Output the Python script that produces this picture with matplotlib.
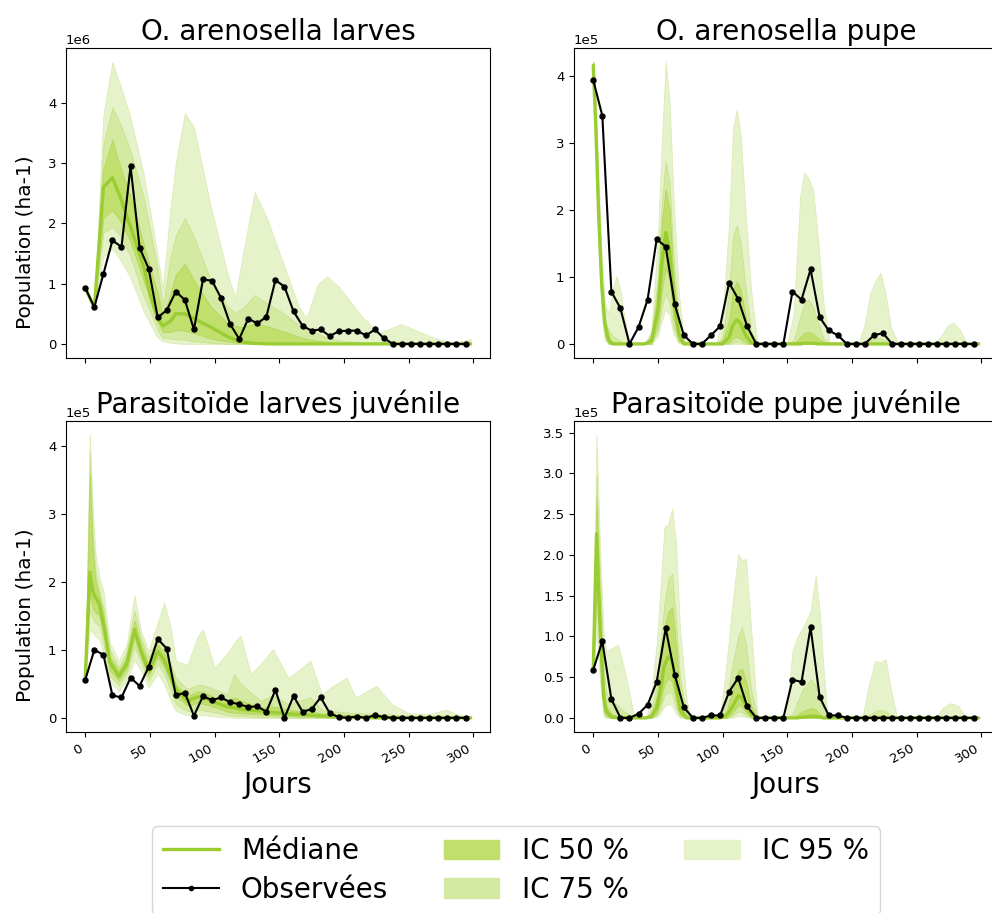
import numpy as np
import matplotlib
matplotlib.use("Agg")
import matplotlib.pyplot as plt
from matplotlib.patches import Patch
from matplotlib.lines import Line2D

# ---------------- observed sampling days (every 7 days) ----------------
obs_days = [0, 7, 14, 21, 28, 35, 42, 49, 56, 63, 70, 77, 84, 91, 98, 105, 112,
            119, 126, 133, 140, 147, 154, 161, 168, 175, 182, 189, 196, 203, 210,
            217, 224, 231, 238, 245, 252, 259, 266, 273, 280, 287, 294]

# ---------------- O. arenosella larves (x 1e6) ----------------
TL_days = [0, 7, 14, 21, 27, 35, 45, 51, 56, 60, 66, 70, 77, 84, 97, 110, 116,
           122, 131, 141, 154, 165, 171, 180, 187, 196, 214, 227, 244, 255, 271, 285, 298]
TL_med = [0.93, 0.60, 2.60, 2.76, 2.44, 1.94, 1.30, 0.75, 0.42, 0.30, 0.38, 0.50, 0.50,
          0.42, 0.28, 0.12, 0.07, 0.03, 0.01] + [0] * 14
TL_u50 = [0.93, 0.60, 2.90, 3.39, 2.94, 2.44, 1.67, 1.20, 0.84, 0.45, 0.84, 1.15, 1.33,
          1.06, 0.62, 0.34, 0.30, 0.28, 0.34, 0.29, 0.20, 0.12, 0.08, 0.05, 0.03, 0.01] + [0] * 7
TL_u75 = [0.93, 0.60, 3.30, 3.93, 3.66, 3.20, 2.44, 1.80, 1.23, 0.62, 1.45, 1.80, 2.09,
          1.78, 1.06, 0.62, 0.52, 0.60, 0.81, 0.67, 0.50, 0.31, 0.25, 0.17, 0.10, 0.06,
          0.02] + [0] * 6
TL_u95 = [0.93, 0.62, 3.80, 4.68, 4.30, 3.75, 2.83, 2.10, 1.45, 0.92, 2.28, 3.00, 3.83,
          3.60, 2.28, 1.17, 0.76, 1.50, 2.52, 2.06, 1.28, 0.62, 0.43, 1.00, 1.12, 0.95,
          0.45, 0.18, 0.33, 0.23, 0.09, 0.02, 0.08]
TL_l50 = [0.93, 0.60, 2.10, 2.22, 2.05, 1.70, 1.06, 0.70, 0.37, 0.20, 0.20, 0.23, 0.22,
          0.18, 0.09, 0.04, 0.02, 0.01] + [0] * 15
TL_l75 = [0.93, 0.60, 1.85, 1.94, 1.80, 1.45, 0.80, 0.50, 0.23, 0.10, 0.09, 0.08, 0.07,
          0.04, 0.02] + [0] * 18
TL_l95 = [0.93, 0.58, 1.45, 1.58, 1.40, 1.10, 0.55, 0.30, 0.10, 0.04, 0.02, 0.01] + [0] * 21
TL_obs = [0.93, 0.61, 1.16, 1.72, 1.61, 2.95, 1.60, 1.25, 0.44, 0.56, 0.87, 0.73, 0.24,
          1.07, 1.05, 0.76, 0.33, 0.08, 0.42, 0.34, 0.45, 1.06, 0.95, 0.54, 0.30, 0.22,
          0.24, 0.13, 0.21, 0.22, 0.22, 0.14, 0.24, 0.09] + [0] * 9

# ---------------- O. arenosella pupe (x 1e5) ----------------
TR_days = [0, 2, 4, 6.5, 9, 12, 15, 18, 21, 24, 28, 40, 45, 50, 53, 56, 59, 62, 66, 70,
           95, 100, 105, 108, 111, 114, 118, 122, 127, 150, 155, 160, 163, 166, 170, 174,
           178, 183, 205, 210, 214, 218, 222, 226, 230, 236, 264, 270, 274, 278, 283, 289, 298]
TR_u95 = [4.20, 3.60, 2.50, 1.30, 0.60, 0.45, 0.80, 1.01, 0.80, 0.40, 0, 0, 0.20, 1.60,
          3.00, 4.20, 3.60, 2.20, 0.80, 0.05, 0, 0.40, 1.80, 3.20, 3.49, 3.10, 1.90, 0.80,
          0, 0, 0.45, 2.20, 2.55, 2.48, 2.30, 1.50, 0.60, 0, 0, 0.30, 0.75, 0.93, 1.06,
          0.75, 0.25, 0, 0, 0.15, 0.27, 0.32, 0.22, 0, 0]
TR_u75 = [4.20, 3.50, 2.30, 1.00, 0.35, 0.20, 0.12, 0.08, 0.05, 0.02, 0, 0, 0.15, 1.00,
          2.10, 2.72, 2.40, 1.30, 0.35, 0.02, 0, 0.10, 0.80, 1.60, 1.77, 1.50, 0.80, 0.20,
          0, 0, 0.05, 0.40, 0.60, 0.67, 0.55, 0.30, 0.08, 0, 0, 0.02, 0.06, 0.08, 0.09,
          0.05, 0.01] + [0] * 8
TR_u50 = [4.20, 3.40, 2.20, 0.90, 0.30, 0.10, 0.02, 0, 0, 0, 0, 0, 0.10, 0.80, 1.80,
          2.30, 2.00, 1.00, 0.25, 0, 0, 0.05, 0.35, 0.80, 0.93, 0.80, 0.40, 0.10, 0, 0,
          0, 0.10, 0.16, 0.18, 0.15, 0.08, 0.02, 0] + [0] * 15
TR_med = [4.15, 3.20, 2.00, 0.90, 0.30, 0.05, 0, 0, 0, 0, 0, 0, 0.05, 0.50, 1.20, 1.66,
          1.40, 0.70, 0.15, 0, 0, 0, 0.10, 0.28, 0.36, 0.30, 0.12, 0.02, 0, 0, 0, 0,
          0.01, 0.01, 0.01] + [0] * 18
TR_l50 = [4.10, 3.00, 1.80, 0.70, 0.15, 0, 0, 0, 0, 0, 0, 0, 0, 0.30, 0.80, 1.13, 0.95,
          0.40, 0.05, 0, 0, 0, 0.02, 0.08, 0.11, 0.08, 0.02] + [0] * 26
TR_l75 = [4.10, 2.90, 1.60, 0.55, 0.10, 0, 0, 0, 0, 0, 0, 0, 0, 0.20, 0.55, 0.76, 0.60,
          0.25, 0.03, 0, 0, 0, 0, 0.02, 0.03, 0.02, 0] + [0] * 26
TR_l95 = [4.00, 2.80, 1.40, 0.40, 0.05, 0, 0, 0, 0, 0, 0, 0, 0, 0.12, 0.35, 0.52, 0.42,
          0.15, 0.01] + [0] * 34
TR_obs = [3.93, 3.40, 0.78, 0.53, 0, 0.25, 0.66, 1.56, 1.45, 0.59, 0.13, 0, 0, 0.13,
          0.26, 0.91, 0.67, 0.26, 0, 0, 0, 0, 0.78, 0.66, 1.11, 0.40, 0.20, 0.13, 0, 0,
          0, 0.13, 0.16] + [0] * 10

# ---------------- Parasitoide larves juvenile (x 1e5) ----------------
BL_days = [0, 3.5, 6, 8, 11, 14, 19, 26, 32, 38, 43, 49, 56, 61, 66, 70, 79, 87, 91,
           100, 110, 115, 120, 128, 136, 145, 157, 165, 174, 183, 190, 202, 209, 225,
           237, 250, 265, 279, 288, 298]
BL_med = [0.60, 2.14, 1.85, 1.77, 1.67, 1.38, 0.82, 0.61, 0.79, 1.30, 0.98, 0.69, 0.98,
          0.85, 0.62, 0.42, 0.25, 0.31, 0.30, 0.23, 0.16, 0.15, 0.13, 0.11, 0.10, 0.08,
          0.06, 0.05, 0.04, 0.03, 0.02, 0.01, 0.01] + [0] * 7
BL_u50 = [0.60, 3.57, 2.40, 2.00, 1.77, 1.52, 0.90, 0.69, 0.89, 1.43, 1.08, 0.79, 1.08,
          0.95, 0.72, 0.49, 0.32, 0.39, 0.38, 0.30, 0.25, 0.30, 0.26, 0.20, 0.15, 0.17,
          0.12, 0.10, 0.10, 0.06, 0.05, 0.04, 0.03, 0.02, 0.01] + [0] * 5
BL_u75 = [0.60, 3.89, 2.60, 2.15, 1.87, 1.62, 1.00, 0.74, 0.98, 1.57, 1.18, 0.89, 1.18,
          1.05, 0.80, 0.59, 0.42, 0.49, 0.48, 0.42, 0.34, 0.64, 0.50, 0.37, 0.25, 0.34,
          0.20, 0.25, 0.30, 0.12, 0.10, 0.08, 0.07, 0.06, 0.05, 0.03, 0.02, 0.02, 0.01, 0]
BL_u95 = [0.60, 4.16, 3.00, 2.40, 2.07, 1.87, 1.10, 0.84, 1.08, 1.80, 1.28, 0.98, 1.40,
          1.70, 1.33, 0.84, 0.78, 1.20, 1.30, 0.74, 0.95, 1.10, 1.21, 0.64, 0.80, 1.01,
          0.59, 0.70, 0.84, 0.34, 0.45, 0.59, 0.30, 0.47, 0.20, 0.07, 0.05, 0.12, 0.05, 0]
BL_l50 = [0.60, 1.85, 1.60, 1.55, 1.50, 1.25, 0.70, 0.55, 0.72, 1.18, 0.90, 0.62, 0.90,
          0.75, 0.52, 0.32, 0.18, 0.22, 0.21, 0.16, 0.09, 0.08, 0.07, 0.06, 0.05, 0.04,
          0.03, 0.02, 0.02, 0.01, 0.01] + [0] * 9
BL_l75 = [0.60, 1.60, 1.45, 1.40, 1.35, 1.10, 0.62, 0.48, 0.65, 1.05, 0.82, 0.55, 0.80,
          0.65, 0.40, 0.20, 0.10, 0.12, 0.11, 0.08, 0.04, 0.03, 0.03, 0.02, 0.01, 0.01] + [0] * 14
BL_l95 = [0.60, 1.30, 1.25, 1.20, 1.15, 0.95, 0.52, 0.40, 0.55, 0.85, 0.70, 0.45, 0.65,
          0.50, 0.25, 0.10, 0.04, 0.04, 0.04, 0.02, 0.01] + [0] * 19
BL_obs = [0.56, 1.00, 0.93, 0.33, 0.30, 0.59, 0.47, 0.75, 1.16, 1.02, 0.33, 0.37, 0.03,
          0.32, 0.26, 0.30, 0.23, 0.20, 0.16, 0.17, 0.09, 0.41, 0.00, 0.32, 0.09, 0.13,
          0.30, 0.07, 0.01, 0.00, 0.02, 0.00, 0.04, 0.01] + [0] * 9

# ---------------- Parasitoide pupe juvenile (x 1e5) ----------------
BR_days = [0, 2.5, 5, 8, 10, 14, 19, 24, 32, 41, 45, 49, 52, 55, 58, 61, 64, 67, 72, 75,
           98, 103, 107, 112, 115, 118, 122, 127, 149, 154, 158, 162, 168, 172, 175, 178,
           181, 208, 213, 218, 222, 226, 230, 235, 265, 270, 276, 282, 288, 298]
BR_u95 = [0.65, 3.47, 2.20, 1.00, 0.82, 0.85, 0.90, 0.60, 0, 0, 0.30, 0.90, 1.60, 2.34,
          2.38, 2.57, 2.14, 1.10, 0.25, 0, 0, 0.66, 1.31, 2.01, 1.93, 1.95, 1.10, 0, 0,
          0.82, 1.00, 1.11, 1.31, 1.75, 1.31, 0.60, 0.05, 0, 0.40, 0.70, 0.68, 0.72, 0.35,
          0, 0, 0.12, 0.18, 0.15, 0, 0]
BR_u75 = [0.62, 2.98, 1.80, 0.60, 0.30, 0.20, 0.15, 0.08, 0, 0, 0.10, 0.40, 0.90, 1.40,
          1.70, 1.77, 1.20, 0.50, 0.05, 0, 0, 0.20, 0.60, 1.00, 1.11, 0.90, 0.35, 0, 0,
          0.05, 0.20, 0.35, 0.47, 0.40, 0.25, 0.08, 0, 0, 0.03, 0.08, 0.10, 0.08, 0.03] + [0] * 7
BR_u50 = [0.60, 2.69, 1.50, 0.40, 0.15, 0.05, 0.02, 0, 0, 0, 0.05, 0.25, 0.60, 1.10, 1.30,
          1.36, 0.90, 0.30, 0.02, 0, 0, 0.08, 0.30, 0.58, 0.60, 0.45, 0.15, 0, 0, 0, 0.04,
          0.08, 0.12, 0.10, 0.05, 0.01] + [0] * 14
BR_med = [0.60, 2.26, 1.20, 0.25, 0.08, 0.01, 0, 0, 0, 0, 0.02, 0.12, 0.35, 0.65, 0.75,
          0.70, 0.40, 0.10, 0, 0, 0, 0.03, 0.12, 0.27, 0.25, 0.15, 0.04, 0, 0, 0, 0, 0.01,
          0.02, 0.02, 0.01] + [0] * 15
BR_l50 = [0.58, 1.73, 0.90, 0.12, 0.03, 0, 0, 0, 0, 0, 0, 0.06, 0.20, 0.42, 0.48, 0.45,
          0.22, 0.04, 0, 0, 0, 0, 0.05, 0.16, 0.14, 0.07, 0.01] + [0] * 23
BR_l75 = [0.57, 1.40, 0.70, 0.06, 0.01, 0, 0, 0, 0, 0, 0, 0.03, 0.12, 0.28, 0.32, 0.30,
          0.12, 0.02, 0, 0, 0, 0, 0.02, 0.08, 0.07, 0.03] + [0] * 24
BR_l95 = [0.55, 1.10, 0.50, 0.02, 0, 0, 0, 0, 0, 0, 0, 0.01, 0.06, 0.14, 0.17, 0.15, 0.05,
          0, 0, 0, 0, 0, 0, 0.02, 0.02, 0.01] + [0] * 24
BR_obs = [0.59, 0.94, 0.23, 0, 0, 0.05, 0.16, 0.44, 1.10, 0.53, 0.13, 0, 0, 0.03, 0.03,
          0.32, 0.49, 0.14, 0, 0, 0, 0, 0.47, 0.44, 1.11, 0.26, 0.03, 0.03] + [0] * 15

titles = ["O. arenosella larves", "O. arenosella pupe",
          "Parasitoïde larves juvénile", "Parasitoïde pupe juvénile"]
scales = [1e6, 1e5, 1e5, 1e5]
xticks = [0, 50, 100, 150, 200, 250, 300]
legend_labels = ["Médiane", "Observées", "IC 50 %", "IC 75 %", "IC 95 %"]

# ---------------- style ----------------
C_MED = "#9acd32"
C50, C75, C95 = "#c0df6c", "#d4e9a2", "#e6f2c9"
E50, E75, E95 = "#b4d65c", "#c9e290", "#dbecb6"

fig = plt.figure(figsize=(9.92, 9.13), dpi=100)
W, H = 992.0, 913.0
boxes = [(66, 48, 424, 310), (574, 48, 424, 310),
         (66, 421, 424, 311), (574, 421, 424, 311)]
axes = [fig.add_axes([x / W, 1 - (y + h) / H, w / W, h / H]) for x, y, w, h in boxes]

panels = [
    (TL_days, TL_l95, TL_l75, TL_l50, TL_med, TL_u50, TL_u75, TL_u95, TL_obs),
    (TR_days, TR_l95, TR_l75, TR_l50, TR_med, TR_u50, TR_u75, TR_u95, TR_obs),
    (BL_days, BL_l95, BL_l75, BL_l50, BL_med, BL_u50, BL_u75, BL_u95, BL_obs),
    (BR_days, BR_l95, BR_l75, BR_l50, BR_med, BR_u50, BR_u75, BR_u95, BR_obs),
]

for i, (ax, p) in enumerate(zip(axes, panels)):
    days, l95, l75, l50, med, u50, u75, u95, obs = p
    sc = scales[i]
    d = np.asarray(days, float)
    f = lambda v: np.asarray(v, float) * sc
    ax.fill_between(d, f(l95), f(u95), facecolor=C95, edgecolor=E95, lw=0.6)
    ax.fill_between(d, f(l75), f(u75), facecolor=C75, edgecolor=E75, lw=0.6)
    ax.fill_between(d, f(l50), f(u50), facecolor=C50, edgecolor=E50, lw=0.6)
    ax.plot(d, f(med), color=C_MED, lw=2.4, solid_capstyle="round")
    ax.plot(obs_days, f(obs), color="black", lw=1.5, marker="o", ms=3.6)
    ax.set_title(titles[i], fontsize=20)
    ax.ticklabel_format(style="sci", axis="y", scilimits=(0, 0))
    ax.yaxis.get_offset_text().set_fontsize(9.5)
    ax.set_xticks(xticks)
    ax.tick_params(labelsize=9.5)
    if i < 2:
        ax.tick_params(labelbottom=False)
    else:
        plt.setp(ax.get_xticklabels(), rotation=30, ha="right")
        ax.set_xlabel("Jours", fontsize=20)
    if i % 2 == 0:
        ax.set_ylabel("Population (ha-1)", fontsize=14.5)
        ax.yaxis.set_label_coords(-0.072, 0.375)

handles = [
    Line2D([], [], color=C_MED, lw=2.4),
    Line2D([], [], color="black", lw=1.5, marker="o", ms=3),
    Patch(facecolor=C50, edgecolor=C50),
    Patch(facecolor=C75, edgecolor=C75),
    Patch(facecolor=C95, edgecolor=C95),
]
fig.legend(handles, legend_labels, loc="upper center", ncol=3, fontsize=20,
           borderpad=0.4, labelspacing=0.38, handletextpad=0.8, borderaxespad=0.0,
           bbox_to_anchor=(516 / W, 1 - 826 / H))

fig.savefig("out.png", dpi=100)
